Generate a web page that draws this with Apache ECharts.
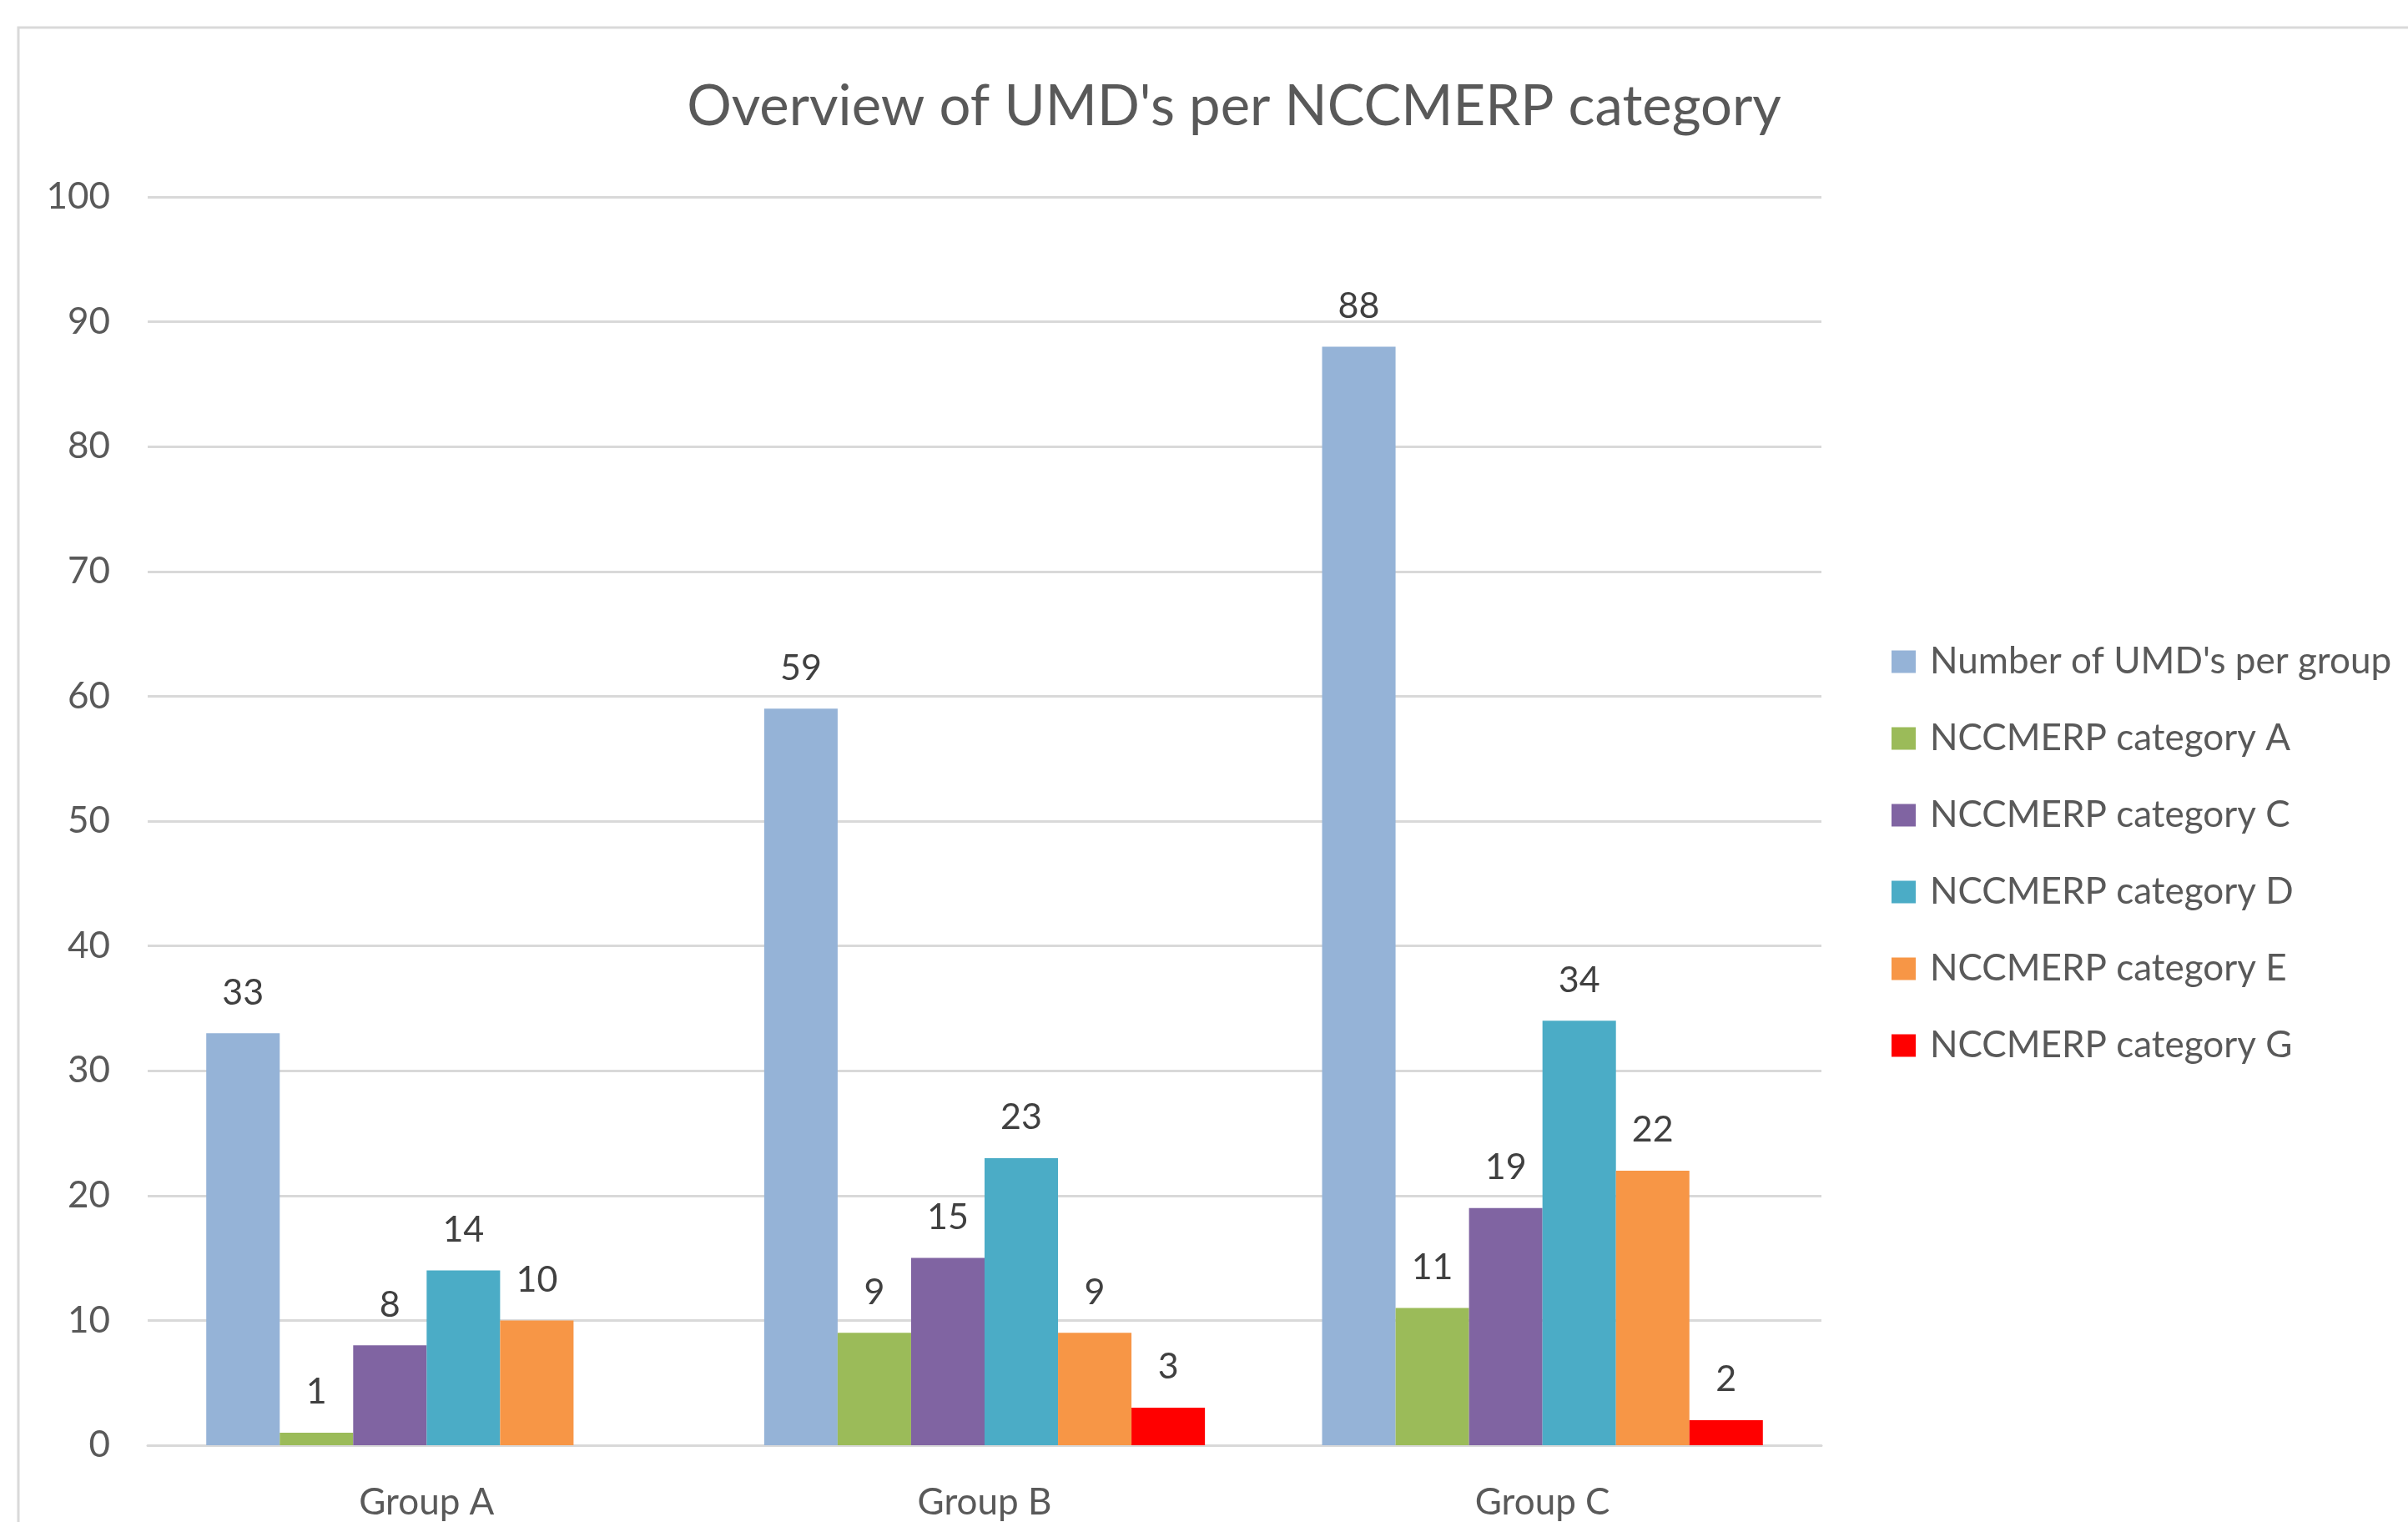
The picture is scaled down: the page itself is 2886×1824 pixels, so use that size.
<!DOCTYPE html>
<html>
<head>
<meta charset="utf-8">
<title>Overview of UMD's per NCCMERP category</title>
<script src="https://cdn.jsdelivr.net/npm/echarts@6/dist/echarts.min.js"></script>
<style>
  html, body { margin: 0; padding: 0; background: #fff; }
  #chart { width: 2886px; height: 1824px; }
</style>
</head>
<body>
<div id="chart"></div>
<script>
// data
var groups = ['Group A', 'Group B', 'Group C'];
var seriesNames = ["Number of UMD's per group", 'NCCMERP category A', 'NCCMERP category C',
                   'NCCMERP category D', 'NCCMERP category E', 'NCCMERP category G'];
var umdPerGroup = [33, 59, 88];
var catA = [1, 9, 11];
var catC = [8, 15, 19];
var catD = [14, 23, 34];
var catE = [10, 9, 22];
var catG = [null, 3, 2];
var yTicks = [0, 10, 20, 30, 40, 50, 60, 70, 80, 90, 100];

var colors = ['#95B3D7', '#9BBB59', '#8064A2', '#4BACC6', '#F79646', '#FF0000'];
var values = [umdPerGroup, catA, catC, catD, catE, catG];

var font = 'Lato, "Noto Sans", "Open Sans", sans-serif';

var chart = echarts.init(document.getElementById('chart'));

var series = values.map(function (vals, i) {
    return {
        name: seriesNames[i],
        type: 'bar',
        data: vals,
        barGap: '0%',
        barCategoryGap: '21%',
        itemStyle: { color: colors[i] },
        label: {
            show: true,
            position: 'top',
            distance: 27,
            color: '#404040',
            fontSize: 43,
            fontFamily: font
        },
        animation: false
    };
});

var option = {
    animation: false,
    backgroundColor: '#fff',
    title: {
        text: "Overview of UMD's per NCCMERP category",
        left: 1474,
        top: 90,
        textAlign: 'center',
        textStyle: { fontSize: 67, fontWeight: 'normal', color: '#595959', fontFamily: font }
    },
    // chart area frame (only top and left edges visible)
    graphic: [{
        type: 'rect',
        shape: { x: 22, y: 33, width: 3000, height: 2000 },
        style: { fill: 'none', stroke: '#D9D9D9', lineWidth: 3 },
        silent: true
    }],
    legend: {
        orient: 'vertical',
        left: 2262,
        top: 766,
        itemWidth: 29,
        itemHeight: 27,
        itemGap: 48,
        icon: 'rect',
        data: seriesNames,
        textStyle: {
            fontSize: 44,
            lineHeight: 44,
            color: '#595959',
            fontFamily: font,
            padding: [0, 0, 0, 12]
        }
    },
    grid: { left: 177, right: 703, top: 236, bottom: 92, containLabel: false },
    xAxis: {
        type: 'category',
        data: groups,
        axisTick: { show: false },
        axisLine: { lineStyle: { color: '#D9D9D9', width: 3 } },
        axisLabel: { color: '#595959', fontSize: 44, margin: 47, fontFamily: font }
    },
    yAxis: {
        type: 'value',
        min: yTicks[0],
        max: yTicks[yTicks.length - 1],
        interval: 10,
        axisLine: { show: false },
        axisTick: { show: false },
        axisLabel: { color: '#595959', fontSize: 44, margin: 45, fontFamily: font },
        splitLine: { lineStyle: { color: '#D9D9D9', width: 3 } }
    },
    series: series
};

chart.setOption(option);
</script>
</body>
</html>
